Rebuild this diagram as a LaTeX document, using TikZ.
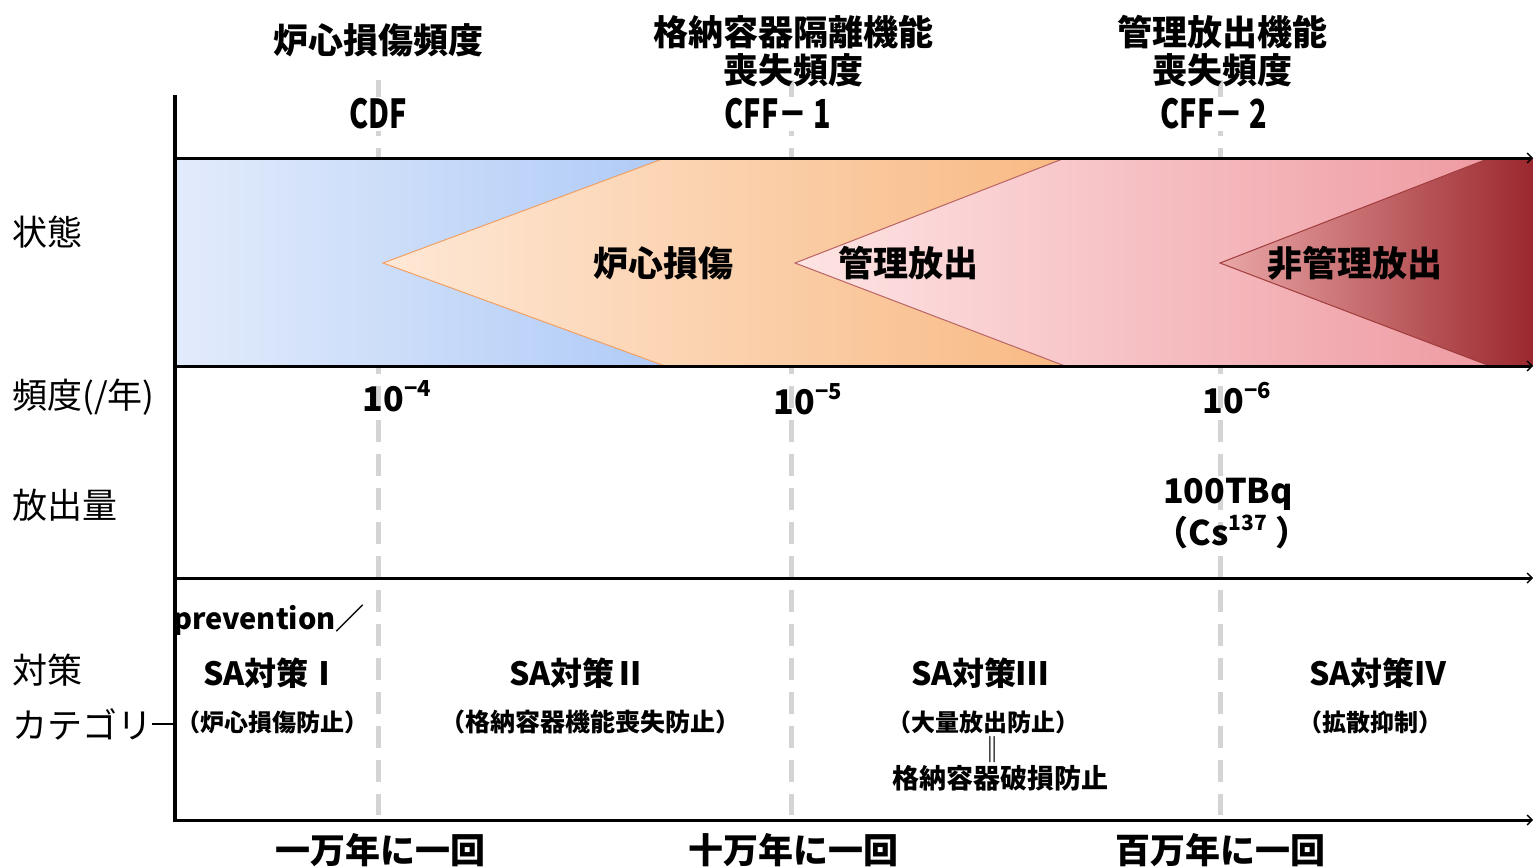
\documentclass[tikz,border=0pt]{standalone}
\usepackage{fontspec}
\setmainfont{Noto Sans CJK JP}
\newfontfamily\cond{Noto Sans CJK JP}[FakeStretch=0.72]
\usetikzlibrary{arrows.meta}
\definecolor{blueA}{RGB}{226,235,251}
\definecolor{blueB}{RGB}{176,203,247}
\definecolor{orA}{RGB}{254,232,214}
\definecolor{orB}{RGB}{248,186,132}
\definecolor{orE}{RGB}{240,160,100}
\definecolor{pkA}{RGB}{254,228,228}
\definecolor{pkB}{RGB}{238,155,162}
\definecolor{pkE}{RGB}{185,100,100}
\definecolor{rdA}{RGB}{234,166,166}
\definecolor{rdB}{RGB}{155,40,46}
\definecolor{rdE}{RGB}{160,60,60}
\definecolor{dashgray}{RGB}{212,212,212}
\begin{document}
\begin{tikzpicture}[x=1pt,y=-1pt,
  hdr/.style={font=\bfseries\fontsize{35}{38}\selectfont, align=center, inner sep=0pt},
  code/.style={font=\cond\bfseries\fontsize{40}{44}\selectfont, inner sep=0pt},
  state/.style={font=\bfseries\fontsize{35}{38}\selectfont, inner sep=0pt},
  side/.style={font=\fontsize{35}{38}\selectfont, inner sep=0pt, anchor=west},
  freq/.style={font=\bfseries\fontsize{34}{36}\selectfont, inner sep=0pt},
  sa/.style={font=\bfseries\fontsize{32}{36}\selectfont, inner sep=0pt},
  sub/.style={font=\bfseries\fontsize{23}{28}\selectfont, inner sep=0pt},
  axisline/.style={line width=4.5pt, black},
  hline/.style={line width=3pt, black, -{Straight Barb[length=5pt,width=10pt,line width=1.4pt]}},
  guide/.style={line width=5pt, dashgray, dash pattern=on 22pt off 12pt}
]
\useasboundingbox (0,0) rectangle (1533,867);

% guide dashed lines
\coordinate (g1t) at (378,80);  \coordinate (g1b) at (378,815);
\coordinate (g2t) at (791,80);  \coordinate (g2b) at (791,815);
\coordinate (g3t) at (1220,80); \coordinate (g3b) at (1220,815);
\draw[guide] (g1t) -- (g1b);
\draw[guide] (g2t) -- (g2b);
\draw[guide] (g3t) -- (g3b);

% state band fills
\shade[left color=blueA, right color=blueB] (175,158) rectangle (665,366);
\shade[left color=orA, right color=orB] (383,263) -- (665,158) -- (1065,158) -- (1065,366) -- (665,366) -- cycle;
\shade[left color=pkA, right color=pkB] (795,263) -- (1065,158) -- (1490,158) -- (1490,366) -- (1065,366) -- cycle;
\shade[left color=rdA, right color=rdB] (1220,263) -- (1490,158) -- (1533,158) -- (1533,366) -- (1490,366) -- cycle;
\draw[orE, line width=1pt] (665,158) -- (383,263) -- (665,366);
\draw[pkE, line width=1pt] (1065,158) -- (795,263) -- (1065,366);
\draw[rdE, line width=1pt] (1490,158) -- (1220,263) -- (1490,366);

% axes
\coordinate (axT) at (175,95);
\coordinate (axB) at (175,822);
\coordinate (l1a) at (175,158);  \coordinate (l1b) at (1533,158);
\coordinate (l2a) at (175,366);  \coordinate (l2b) at (1533,366);
\coordinate (l3a) at (175,578);  \coordinate (l3b) at (1533,578);
\coordinate (l4a) at (175,820);  \coordinate (l4b) at (1533,820);
\draw[hline] (l1a) -- (l1b);
\draw[hline] (l2a) -- (l2b);
\draw[hline] (l3a) -- (l3b);
\draw[hline] (l4a) -- (l4b);
\draw[axisline] (axT) -- (axB);

% headers
\node[hdr] (h1) at (378,40) {炉心損傷頻度};
\node[hdr] (h2) at (793,51) {格納容器隔離機能\\喪失頻度};
\node[hdr] (h3) at (1222,51) {管理放出機能\\喪失頻度};
\node[code, fill=white, inner sep=2pt] (c1) at (378,114) {CDF};
\node[code, fill=white, inner sep=2pt] (c2) at (778,114) {CFF－ 1};
\node[code, fill=white, inner sep=2pt] (c3) at (1214,114) {CFF－ 2};

% state labels
\node[state] (s1) at (663,263) {炉心損傷};
\node[state] (s2) at (908,263) {管理放出};
\node[state] (s3) at (1355,263) {非管理放出};

% side labels
\node[side] (L1) at (12,232) {状態};
\node[side] (L2) at (12,397) {頻度(/年)};
\node[side] (L3) at (12,505) {放出量};
\node[side] (L4) at (12,670) {対策};
\node[side] (L5) at (12,724) {カテゴリ};
\draw[line width=2.2pt] (L5.east) -- (L5.east -| axT);

% frequency values
\node[freq] (f1) at (397,396) {10\raisebox{0.45em}{\fontsize{22}{22}\selectfont −4}};
\node[freq] (f2) at (808,399) {10\raisebox{0.45em}{\fontsize{22}{22}\selectfont −5}};
\node[freq] (f3) at (1237,398) {10\raisebox{0.45em}{\fontsize{22}{22}\selectfont −6}};

% release amount
\node[freq] (r1) at (1228,494) {100TBq};
\node[freq] (r2) at (1232,532) {（Cs\raisebox{0.45em}{\fontsize{21}{21}\selectfont 137} ）};

% countermeasure categories
\node[sa, anchor=west, font=\bfseries\fontsize{29}{32}\selectfont] (p1) at (173,620) {prevention／};
\node[sa] (a1) at (272,673) {SA対策Ⅰ};
\node[sub, font=\bfseries\fontsize{24}{28}\selectfont] (b1) at (272,722) {（炉心損傷防止）};
\node[sa] (a2) at (578,673) {SA対策Ⅱ};
\node[sub, font=\bfseries\fontsize{25}{28}\selectfont] (b2) at (590,722) {（格納容器機能喪失防止）};
\node[sa] (a3) at (980,673) {SA対策Ⅲ};
\node[sub, font=\bfseries\fontsize{24}{28}\selectfont] (b3) at (983,722) {（大量放出防止）};
\node[sub, font=\bfseries\fontsize{26}{28}\selectfont] (e3) at (992,750) {‖};
\node[sub, font=\bfseries\fontsize{27}{30}\selectfont] (d3) at (1000,778) {格納容器破損防止};
\node[sa] (a4) at (1378,673) {SA対策Ⅳ};
\node[sub, font=\bfseries\fontsize{24}{28}\selectfont] (b4) at (1370,722) {（拡散抑制）};

% bottom
\node[hdr] (t1) at (380,850) {一万年に一回};
\node[hdr] (t2) at (793,850) {十万年に一回};
\node[hdr] (t3) at (1220,850) {百万年に一回};
\end{tikzpicture}
\end{document}
